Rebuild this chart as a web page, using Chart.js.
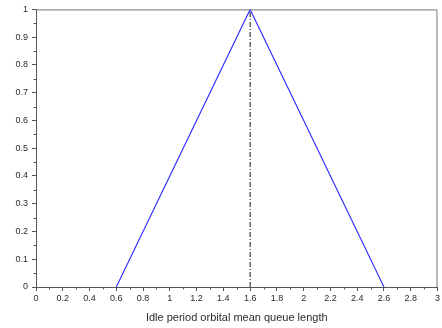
<!DOCTYPE html>
<html>
<head>
<meta charset="utf-8">
<script src="https://cdn.jsdelivr.net/npm/chart.js@4"></script>
<style>
  html, body { margin:0; padding:0; background:#fff; }
</style>
</head>
<body>
<canvas id="c" width="442" height="328"></canvas>
<script>
// triangular membership curve
const queueLength = [0.6, 1.6, 2.6];
const membership = [0, 1, 0];
// vertical dash-dot marker at the peak
const peakX = [1.6, 1.6];
const peakY = [0, 1];

const xTitle = "Idle period orbital mean queue length";
const xMin = 0, xMax = 3, xStep = 0.2, xMinorStep = 0.1;
const yMin = 0, yMax = 1, yStep = 0.1, yMinorStep = 0.05;

const axisColor = "#555";
const labelColor = "#2b2b2b";

// frame box + minor ticks
const framePlugin = {
  id: "frame",
  afterDraw(chart){
    const ctx = chart.ctx;
    const a = chart.chartArea;
    const xs = chart.scales.x, ys = chart.scales.y;
    ctx.save();
    ctx.strokeStyle = "#777";
    ctx.lineWidth = 1;
    ctx.beginPath();
    ctx.moveTo(a.left, a.top + 0.5);
    ctx.lineTo(a.right - 0.5, a.top + 0.5);
    ctx.lineTo(a.right - 0.5, a.bottom);
    ctx.stroke();

    ctx.strokeStyle = axisColor;
    ctx.beginPath();
    for(let v = xMinorStep; v < xMax; v += xStep){
      const px = Math.round(xs.getPixelForValue(v)) + 0.5;
      ctx.moveTo(px, a.bottom);
      ctx.lineTo(px, a.bottom + 2.5);
    }
    for(let v = yMinorStep; v < yMax; v += yStep){
      const py = Math.round(ys.getPixelForValue(v)) + 0.5;
      ctx.moveTo(a.left, py);
      ctx.lineTo(a.left - 2.5, py);
    }
    ctx.stroke();
    ctx.restore();
  }
};

const fmt = v => String(parseFloat(Number(v).toFixed(2)));

new Chart(document.getElementById("c"), {
  type: "scatter",
  data: {
    datasets: [
      {
        data: queueLength.map((x,i)=>({x:x, y:membership[i]})),
        showLine: true,
        borderColor: "#2a2aff",
        borderWidth: 1.1,
        pointRadius: 0,
        fill: false
      },
      {
        data: peakX.map((x,i)=>({x:x, y:peakY[i]})),
        showLine: true,
        borderColor: "#111",
        borderWidth: 1,
        borderDash: [5, 2, 1, 2],
        pointRadius: 0,
        fill: false
      }
    ]
  },
  options: {
    responsive: false,
    animation: false,
    layout: { padding: { top: 7, right: 2, left: 0, bottom: 0 } },
    plugins: { legend: { display: false }, tooltip: { enabled: false } },
    scales: {
      x: {
        type: "linear",
        min: xMin, max: xMax,
        afterFit(s){ s.height = 41; },
        ticks: {
          stepSize: xStep,
          padding: 2,
          color: labelColor,
          font: { family: "Liberation Sans", size: 9 },
          maxRotation: 0,
          autoSkip: false,
          callback: v => fmt(v)
        },
        grid: { drawOnChartArea: false, tickLength: 4, color: axisColor, tickColor: axisColor },
        border: { color: axisColor, width: 1 },
        title: {
          display: true,
          text: xTitle,
          color: labelColor,
          font: { family: "Liberation Sans", size: 11 },
          padding: { top: 0, bottom: 3 }
        }
      },
      y: {
        type: "linear",
        min: yMin, max: yMax,
        afterFit(s){ s.width = 36; },
        ticks: {
          stepSize: yStep,
          padding: 4,
          color: labelColor,
          font: { family: "Liberation Sans", size: 9 },
          autoSkip: false,
          callback: v => fmt(v)
        },
        grid: { drawOnChartArea: false, tickLength: 4, color: axisColor, tickColor: axisColor },
        border: { color: axisColor, width: 1 }
      }
    }
  },
  plugins: [framePlugin]
});
</script>
</body>
</html>
